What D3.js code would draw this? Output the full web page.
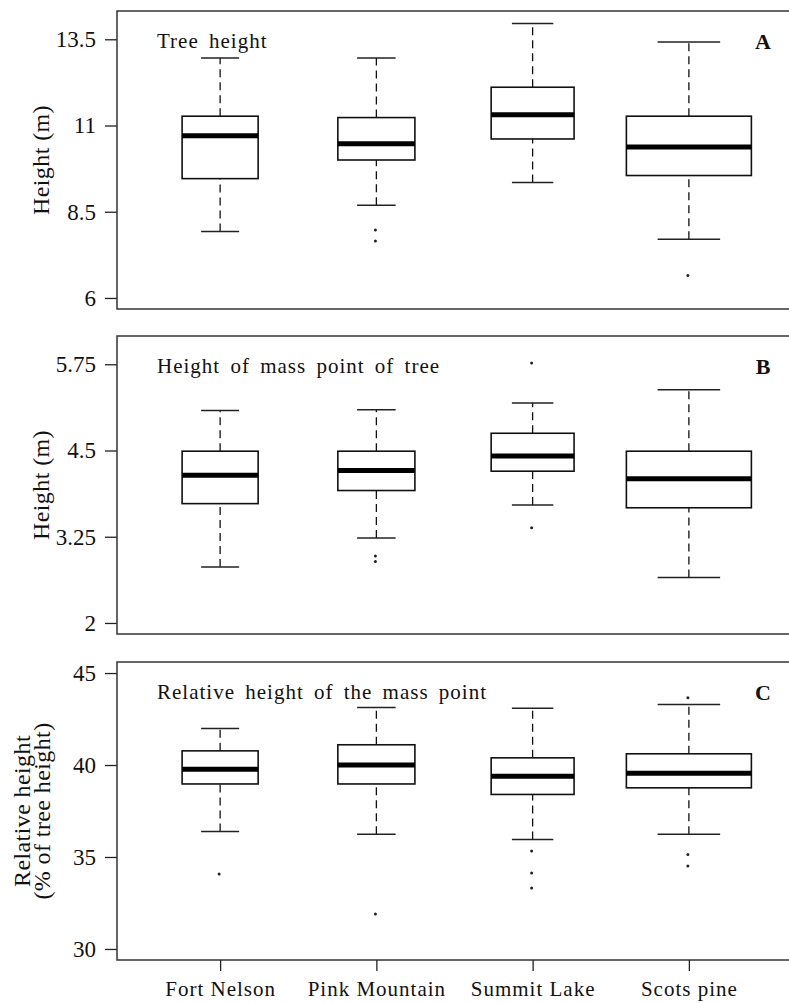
<!DOCTYPE html>
<html>
<head>
<meta charset="utf-8">
<script src="https://cdn.jsdelivr.net/npm/d3@7"></script>
<style>
  body { margin: 0; background: #fff; }
  svg { display: block; }
  text { font-family: "Liberation Serif", "Times New Roman", serif; fill: #111; }
</style>
</head>
<body>
<svg id="svg" width="789" height="1003"></svg>
<script>
// data
const categories = ['Fort Nelson', 'Pink Mountain', 'Summit Lake', 'Scots pine'];
const sampleSize = [37, 38, 44, 100]; // rough guess from the box widths (varwidth)

// [lower whisker, Q1, median, Q3, upper whisker]
const treeHeight = [
	[7.93, 9.46, 10.70, 11.27, 12.96],
	[8.69, 10.00, 10.47, 11.23, 12.96],
	[9.35, 10.61, 11.31, 12.11, 13.96],
	[7.70, 9.55, 10.38, 11.27, 13.42],
];
const treeHeightOut = [[], [7.97, 7.65], [], [6.65]];

const massPoint = [
	[2.81, 3.73, 4.14, 4.49, 5.08],
	[3.23, 3.92, 4.21, 4.49, 5.09],
	[3.71, 4.20, 4.42, 4.75, 5.19],
	[2.66, 3.67, 4.09, 4.49, 5.38],
];
const massPointOut = [[], [2.97, 2.89], [5.77, 3.38], []];

const relHeight = [
	[36.38, 38.97, 39.77, 40.77, 41.98],
	[36.24, 38.97, 40.00, 41.10, 43.13],
	[35.95, 38.40, 39.39, 40.39, 43.08],
	[36.24, 38.76, 39.55, 40.61, 43.29],
];
const relHeightOut = [[34.08], [31.9], [35.32, 34.13, 33.31], [43.65, 35.14, 34.51]];

const yLimits = [[6, 14], [2, 6], [30, 45]];
const yTicks = [[6, 8.5, 11, 13.5], [2, 3.25, 4.5, 5.75], [30, 35, 40, 45]];
const titles = ['Tree height', 'Height of mass point of tree', 'Relative height of the mass point'];
const letters = ['A', 'B', 'C'];
const yLabels = [['Height (m)'], ['Height (m)'], ['Relative height', '(% of tree height)']];

const stats = [treeHeight, massPoint, relHeight];
const outliers = [treeHeightOut, massPointOut, relHeightOut];

const svg = d3.select('svg');
const left = 117;
const right = 792;
const panelTop = [11, 336, 662];
const panelH = 298;

// R style x range: 0.5..4.5 extended by 4%
const x = d3.scaleLinear().domain([0.34, 4.66]).range([left, right]);
const unit = x(2) - x(1);
const maxN = d3.max(sampleSize);
const boxW = sampleSize.map((n) => 0.8 * Math.sqrt(n / maxN) * unit);

stats.forEach((panel, p) => {
	const top = panelTop[p];
	const bottom = top + panelH;
	const lim = yLimits[p];
	const pad = (lim[1] - lim[0]) * 0.04;
	const y = d3.scaleLinear().domain([lim[0] - pad, lim[1] + pad]).range([bottom, top]);

	const g = svg.append('g');

	// y axis
	const axis = g.append('g')
		.attr('transform', `translate(${left},0)`)
		.call(d3.axisLeft(y).tickValues(yTicks[p]).tickSize(12).tickPadding(9).tickFormat((d) => String(d)));
	axis.select('.domain').remove();
	axis.selectAll('line').attr('stroke', '#222').attr('stroke-width', 1.3);
	axis.selectAll('text')
		.attr('font-size', 23)
		.attr('font-family', '"Liberation Serif", serif')
		.attr('fill', '#111');

	// boxes
	panel.forEach((s, i) => {
		const cx = x(i + 1);
		const w = boxW[i];
		const b = g.append('g');
		// whiskers
		b.append('line')
			.attr('x1', cx).attr('x2', cx)
			.attr('y1', y(s[0])).attr('y2', y(s[1]))
			.attr('stroke', '#111').attr('stroke-width', 1.3).attr('stroke-dasharray', '8,5');
		b.append('line')
			.attr('x1', cx).attr('x2', cx)
			.attr('y1', y(s[3])).attr('y2', y(s[4]))
			.attr('stroke', '#111').attr('stroke-width', 1.3).attr('stroke-dasharray', '8,5');
		// caps
		[s[0], s[4]].forEach((v) => {
			b.append('line')
				.attr('x1', cx - w / 4).attr('x2', cx + w / 4)
				.attr('y1', y(v)).attr('y2', y(v))
				.attr('stroke', '#222').attr('stroke-width', 1.5);
		});
		b.append('rect')
			.attr('x', cx - w / 2).attr('width', w)
			.attr('y', y(s[3])).attr('height', y(s[1]) - y(s[3]))
			.attr('fill', '#fff').attr('stroke', '#111').attr('stroke-width', 1.6);
		b.append('line')
			.attr('x1', cx - w / 2).attr('x2', cx + w / 2)
			.attr('y1', y(s[2])).attr('y2', y(s[2]))
			.attr('stroke', '#000').attr('stroke-width', 5);
		b.selectAll('circle')
			.data(outliers[p][i])
			.enter()
			.append('circle')
			.attr('cx', cx - 1)
			.attr('cy', (d) => y(d))
			.attr('r', 1.5)
			.attr('fill', '#222');
	});

	// frame
	g.append('rect')
		.attr('x', left).attr('y', top)
		.attr('width', right - left).attr('height', panelH)
		.attr('fill', 'none').attr('stroke', '#333').attr('stroke-width', 1.5);

	// title and panel letter
	g.append('text')
		.attr('x', 157)
		.attr('y', top + 37)
		.attr('font-size', 21)
		.style('letter-spacing', '1px')
		.style('word-spacing', '4px')
		.text(titles[p]);
	g.append('text')
		.attr('x', 763)
		.attr('y', top + 38)
		.attr('text-anchor', 'middle')
		.attr('font-size', 22)
		.attr('font-weight', 'bold')
		.text(letters[p]);

	// y label
	const cy = top + panelH / 2;
	const lines = yLabels[p];
	lines.forEach((t, k) => {
		const bx = lines.length === 1 ? 49 : 30 + k * 20;
		g.append('text')
			.attr('transform', `translate(${bx},${cy}) rotate(-90)`)
			.attr('text-anchor', 'middle')
			.attr('font-size', 24)
			.style('letter-spacing', '0.4px')
			.text(t);
	});

	// x axis on the bottom panel
	if (p === stats.length - 1) {
		const xa = g.append('g')
			.attr('transform', `translate(0,${bottom})`)
			.call(d3.axisBottom(x).tickValues([1, 2, 3, 4]).tickSize(11).tickPadding(10)
				.tickFormat((d) => categories[d - 1]));
		xa.select('.domain').remove();
		xa.selectAll('line').attr('stroke', '#222').attr('stroke-width', 1.3);
		xa.selectAll('text')
			.attr('font-size', 21)
			.attr('font-family', '"Liberation Serif", serif')
			.attr('fill', '#111')
			.style('letter-spacing', '1px');
	}
});
</script>
</body>
</html>
